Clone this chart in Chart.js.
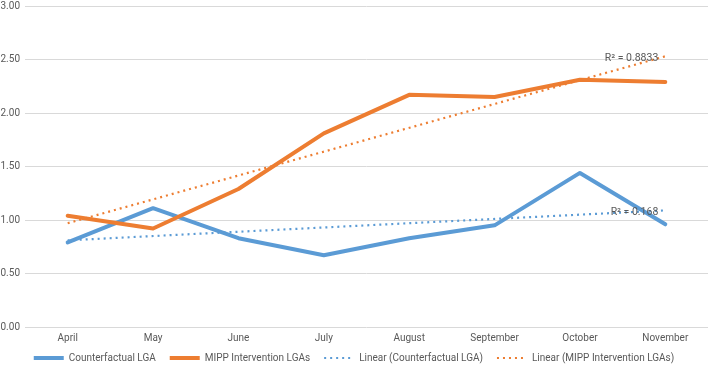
<!DOCTYPE html>
<html>
<head>
<meta charset="utf-8">
<script src="https://cdn.jsdelivr.net/npm/chart.js@4/dist/chart.umd.min.js"></script>
<style>
  html, body { margin: 0; padding: 0; background: #ffffff; }
  #wrap { width: 710px; height: 365px; position: relative; }
</style>
</head>
<body>
<div id="wrap"><canvas id="c"></canvas></div>
<script>
const categories = ['April', 'May', 'June', 'July', 'August', 'September', 'October', 'November'];
const counterfactualLGA = [0.79, 1.11, 0.83, 0.67, 0.83, 0.95, 1.44, 0.96];
const mippInterventionLGAs = [1.04, 0.92, 1.29, 1.81, 2.17, 2.15, 2.31, 2.29];
// Linear trend lines: endpoints
const trendCounterfactual = [0.81, null, null, null, null, null, null, 1.09];
const trendMipp = [0.97, null, null, null, null, null, null, 2.53];
const r2Counterfactual = 'R² = 0.168';
const r2Mipp = 'R² = 0.8833';
const yMin = 0, yMax = 3, yStep = 0.5;

const BLUE = '#5b9bd5';
const ORANGE = '#ed7d31';
const TEXT = '#595959';
const FONT = "Roboto, 'Liberation Sans', sans-serif";
const LEGEND_PAD = 14;

const r2Plugin = {
  id: 'r2labels',
  afterDatasetsDraw(chart) {
    const { ctx, scales } = chart;
    const x = scales.x, y = scales.y;
    ctx.save();
    ctx.font = '10.5px ' + FONT;
    ctx.fillStyle = TEXT;
    ctx.textAlign = 'right';
    ctx.textBaseline = 'middle';
    const xr = x.getPixelForValue(categories.length - 1) - 7;
    ctx.fillText(r2Mipp, xr, y.getPixelForValue(trendMipp[7]) + 2);
    ctx.fillText(r2Counterfactual, xr, y.getPixelForValue(trendCounterfactual[7]) + 2);
    ctx.restore();
  }
};

const legendShift = {
  id: 'legendShift',
  afterUpdate(chart) {
    if (chart.legend) { chart.legend.top = 358 - LEGEND_PAD - 5; }
  }
};

new Chart(document.getElementById('c'), {
  type: 'line',
  data: {
    labels: categories,
    datasets: [
      { label: 'Counterfactual LGA', data: counterfactualLGA, borderColor: BLUE, backgroundColor: BLUE,
        borderWidth: 4, pointRadius: 0, borderCapStyle: 'round', borderJoinStyle: 'round', tension: 0, order: 2 },
      { label: 'MIPP Intervention LGAs', data: mippInterventionLGAs, borderColor: ORANGE, backgroundColor: ORANGE,
        borderWidth: 4, pointRadius: 0, borderCapStyle: 'round', borderJoinStyle: 'round', tension: 0, order: 1 },
      { label: 'Linear (Counterfactual LGA)', data: trendCounterfactual, borderColor: BLUE, backgroundColor: BLUE,
        borderWidth: 2.2, borderDash: [2, 4], pointRadius: 0, spanGaps: true, order: 0 },
      { label: 'Linear (MIPP Intervention LGAs)', data: trendMipp, borderColor: ORANGE, backgroundColor: ORANGE,
        borderWidth: 2.2, borderDash: [2, 4], pointRadius: 0, spanGaps: true, order: 0 }
    ]
  },
  options: {
    responsive: true,
    maintainAspectRatio: false,
    animation: false,
    layout: { padding: { top: 6, right: 2, left: 0, bottom: 0 } },
    scales: {
      x: {
        offset: true,
        grid: { display: false, drawTicks: false },
        border: { display: false },
        ticks: { color: TEXT, font: { family: FONT, size: 10 }, padding: 5, maxRotation: 0, autoSkip: false },
        afterFit(s) { s.height = 16; }
      },
      y: {
        min: yMin, max: yMax,
        grid: { color: '#d9d9d9', lineWidth: 1, drawTicks: false },
        border: { display: false },
        ticks: { stepSize: yStep, color: TEXT, font: { family: FONT, size: 10 }, padding: 5,
          callback: v => Number(v).toFixed(2) },
        afterFit(s) { s.width = 25; s.paddingTop = 0; s.paddingBottom = 0; }
      }
    },
    plugins: {
      tooltip: { enabled: false },
      legend: {
        position: 'bottom',
        align: 'center',
        maxHeight: 22,
        labels: {
          color: TEXT,
          font: { family: FONT, size: 10 },
          usePointStyle: true,
          pointStyleWidth: 30,
          boxWidth: 30,
          boxHeight: 10,
          padding: LEGEND_PAD,
          generateLabels(chart) {
            return chart.data.datasets.map((ds, i) => ({
              text: ds.label,
              fillStyle: ds.borderColor,
              strokeStyle: ds.borderColor,
              lineWidth: ds.borderDash ? 2 : 4,
              lineDash: ds.borderDash || [],
              lineCap: 'butt',
              pointStyle: 'line',
              fontColor: TEXT,
              datasetIndex: i,
              hidden: false
            }));
          }
        }
      }
    }
  },
  plugins: [r2Plugin, legendShift]
});
</script>
</body>
</html>
